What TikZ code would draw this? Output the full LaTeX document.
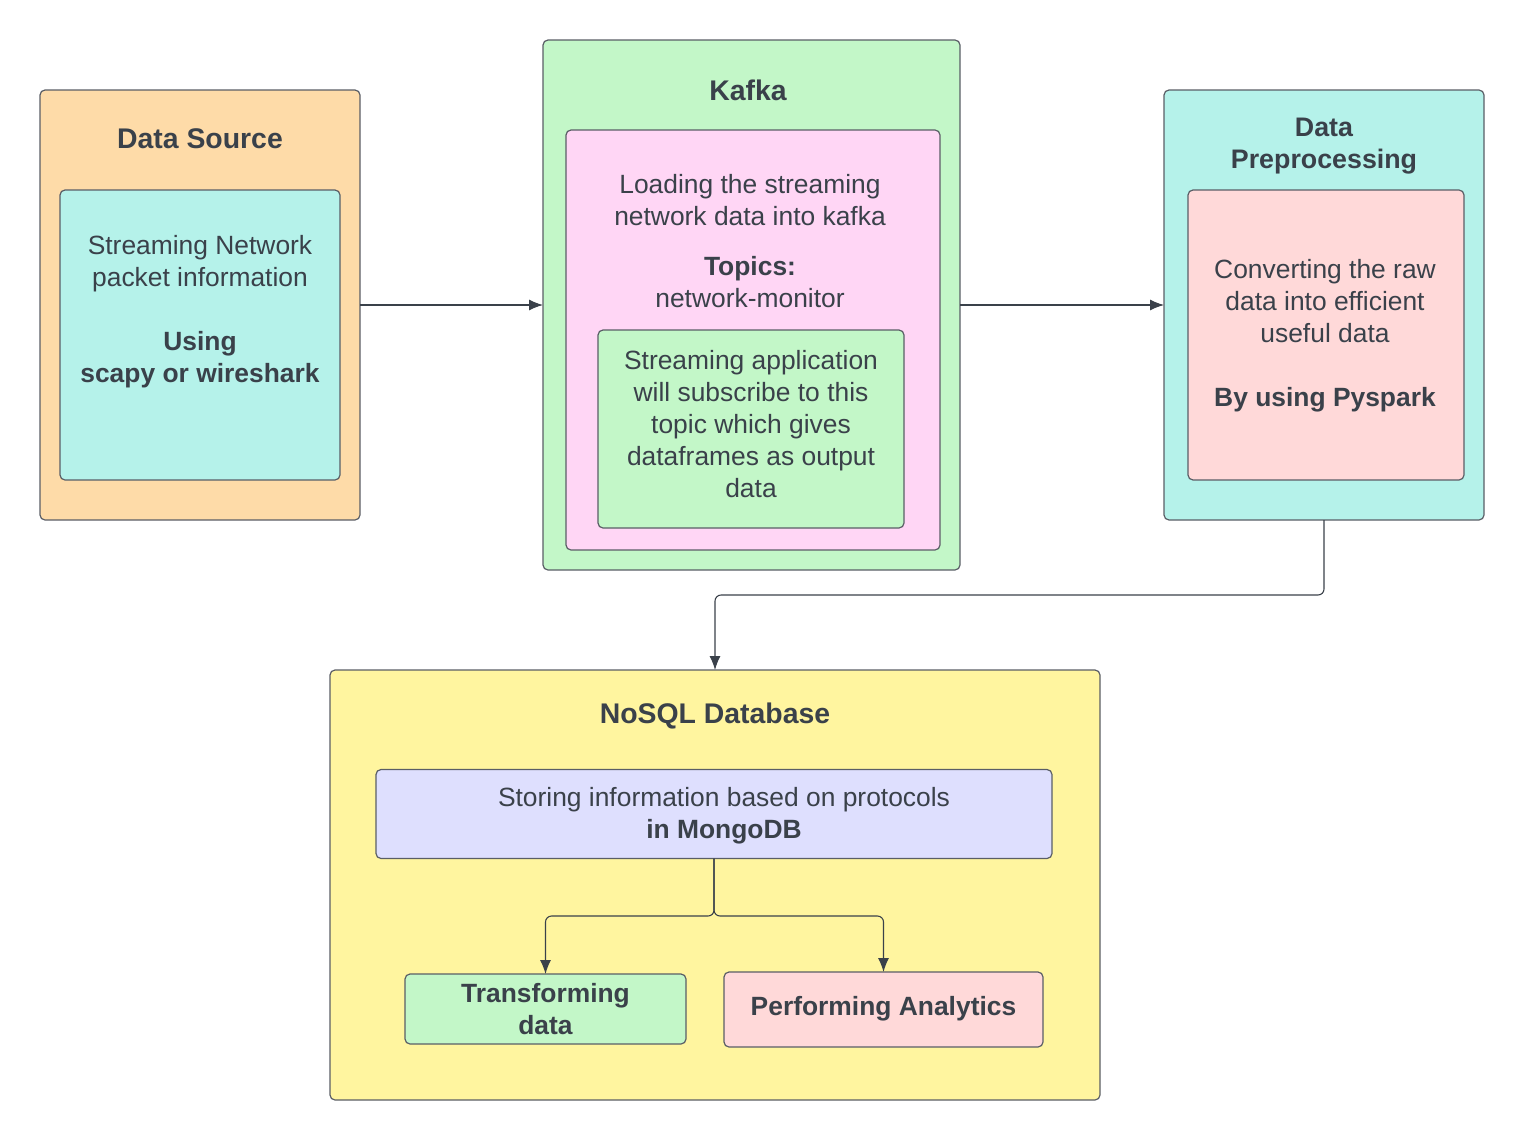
\documentclass[tikz,border=0pt]{standalone}
\usepackage{fontspec}
\setmainfont{Liberation Sans}
\usetikzlibrary{arrows.meta}
\definecolor{txt}{HTML}{3A414A}
\definecolor{linec}{HTML}{5A5E66}
\definecolor{peach}{HTML}{FEDBA8}
\definecolor{cyanf}{HTML}{B5F2EA}
\definecolor{greenf}{HTML}{C3F7C8}
\definecolor{pinkf}{HTML}{FFD6F5}
\definecolor{rosef}{HTML}{FFD9D9}
\definecolor{yellowf}{HTML}{FFF59F}
\definecolor{lavf}{HTML}{DEDFFE}
\tikzset{
  box/.style={draw=linec, line width=0.6pt, rounded corners=2.5pt, inner sep=0pt, outer sep=0pt},
  body/.style={text=txt, align=center, font=\fontsize{13.2}{16}\selectfont, inner sep=0pt},
  title/.style={text=txt, align=center, font=\fontsize{14.2}{16}\selectfont\bfseries, inner sep=0pt},
  conn/.style={draw=txt, line width=0.55pt, rounded corners=3pt, -{Latex[length=7pt,width=5.5pt]}},
}
\begin{document}
\begin{tikzpicture}[x=0.5pt,y=-0.5pt]
\useasboundingbox (0,0) rectangle (1525,1140);
% Data Source
\node[box, fill=peach, minimum width=160pt, minimum height=215pt] (ds) at (200,305) {};
\node[title] (dst) at (200,139) {Data Source};
\node[box, fill=cyanf, minimum width=140pt, minimum height=145pt] (dsi) at (200,335) {};
\node[body] (dsit) at (200,312) {Streaming Network\\packet information\\[16pt]\textbf{Using}\\\textbf{scapy or wireshark}};
% Kafka
\node[box, fill=greenf, minimum width=208.5pt, minimum height=265pt] (kf) at (751.5,305) {};
\node[title] (kft) at (748,90) {Kafka};
\node[box, fill=pinkf, minimum width=187pt, minimum height=210pt] (kfp) at (753,340) {};
\node[body] (kfpt) at (750,241) {Loading the streaming\\network data into kafka\\[9pt]\textbf{Topics:}\\network-monitor};
\node[box, fill=greenf, minimum width=153pt, minimum height=99pt] (kfg) at (751,429) {};
\node[body] (kfgt) at (751,424) {Streaming application\\will subscribe to this\\topic which gives\\dataframes as output\\data};
% Data Preprocessing
\node[box, fill=cyanf, minimum width=160pt, minimum height=215pt] (dp) at (1324,305) {};
\node[title, font=\fontsize{13.4}{16}\selectfont\bfseries] (dpt) at (1324,146) {Data\\Preprocessing};
\node[box, fill=rosef, minimum width=138pt, minimum height=145pt] (dpi) at (1326,335) {};
\node[body] (dpit) at (1325,336) {Converting the raw\\data into efficient\\useful data\\[16pt]\textbf{By using Pyspark}};
% NoSQL
\node[box, fill=yellowf, minimum width=385pt, minimum height=215pt] (ns) at (715,885) {};
\node[title] (nst) at (715,716) {NoSQL Database};
\node[box, fill=lavf, minimum width=338pt, minimum height=44.5pt] (st) at (714,814) {};
\node[body] (stt) at (724,816) {Storing information based on protocols\\\textbf{in MongoDB}};
\node[box, fill=greenf, minimum width=140.5pt, minimum height=35pt] (tr) at (545.5,1009) {};
\node[body, font=\fontsize{13.2}{16}\selectfont\bfseries] (trt) at (545.5,1009) {Transforming\\data};
\node[box, fill=rosef, minimum width=159.5pt, minimum height=37.5pt] (pa) at (883.5,1009.5) {};
\node[body, font=\fontsize{13.2}{16}\selectfont\bfseries] (pat) at (883.5,1009) {Performing Analytics};
% connectors
\draw[conn] (ds.east) -- (kf.west);
\draw[conn] (kf.east) -- (dp.west);
\draw[conn] (dp.south) -- (dp.south |- 0,595) -| (ns.north);
\draw[conn] (st.south) -- (st.south |- 0,916) -| (tr.north);
\draw[conn] (st.south) -- (st.south |- 0,916) -| (pa.north);
\end{tikzpicture}
\end{document}
